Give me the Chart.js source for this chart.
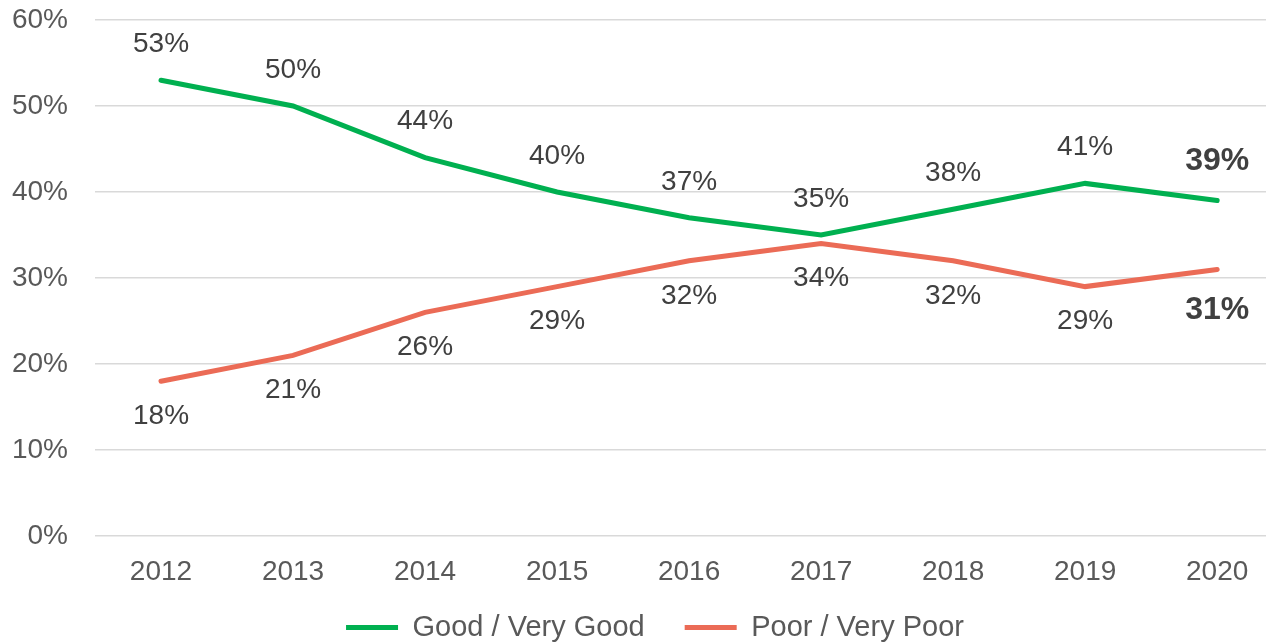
<!DOCTYPE html>
<html>
<head>
<meta charset="utf-8">
<script src="https://cdn.jsdelivr.net/npm/chart.js@4"></script>
<style>
  body { margin: 0; background: #fff; overflow: hidden; }
</style>
</head>
<body>
<canvas id="myChart" width="1266" height="643"></canvas>
<script>
const years = [2012, 2013, 2014, 2015, 2016, 2017, 2018, 2019, 2020];
const good = [53, 50, 44, 40, 37, 35, 38, 41, 39];
const poor = [18, 21, 26, 29, 32, 34, 32, 29, 31];
const yTicks = [0, 10, 20, 30, 40, 50, 60];

const FONT = "'Liberation Sans', Arial, sans-serif";

// labels above the green line, below the red one; last point in bold
const pointLabels = {
    id: 'pointLabels',
    afterDatasetsDraw(chart) {
        const ctx = chart.ctx;
        chart.data.datasets.forEach((ds, di) => {
            const meta = chart.getDatasetMeta(di);
            meta.data.forEach((pt, i) => {
                const last = i === meta.data.length - 1;
                ctx.save();
                ctx.font = last ? 'bold 32px ' + FONT : '28px ' + FONT;
                ctx.fillStyle = '#404040';
                ctx.textAlign = 'center';
                ctx.textBaseline = 'middle';
                let off = ds.labelPos === 'above' ? -36 : 35;
                if (last) off += off < 0 ? -3 : 6;
                ctx.fillText(ds.data[i].y + '%', pt.x, pt.y + off);
                ctx.restore();
            });
        });
    }
};

// pull the legend up a bit so it sits right under the year labels
const legendShift = {
    id: 'legendShift',
    afterLayout(chart) {
        chart.legend.top -= 19;
        chart.legend.bottom -= 19;
    }
};

const ctx = document.getElementById('myChart').getContext('2d');
const myChart = new Chart(ctx, {
    type: 'line',
    data: {
        datasets: [{
            label: 'Good / Very Good',
            data: years.map((y, i) => ({ x: y, y: good[i] })),
            borderColor: '#00B050',
            backgroundColor: '#00B050',
            borderWidth: 5,
            borderCapStyle: 'round',
            pointRadius: 0,
            tension: 0,
            labelPos: 'above'
        }, {
            label: 'Poor / Very Poor',
            data: years.map((y, i) => ({ x: y, y: poor[i] })),
            borderColor: '#EB6B56',
            backgroundColor: '#EB6B56',
            borderWidth: 5,
            borderCapStyle: 'round',
            pointRadius: 0,
            tension: 0,
            labelPos: 'below'
        }]
    },
    options: {
        responsive: false,
        animation: false,
        layout: { padding: { top: 0, right: -44, left: 0, bottom: -28 } },
        plugins: {
            tooltip: { enabled: false },
            legend: {
                position: 'bottom',
                labels: {
                    usePointStyle: true,
                    pointStyle: 'line',
                    pointStyleWidth: 52,
                    boxHeight: 5,
                    padding: 40,
                    color: '#595959',
                    font: { family: FONT, size: 29 }
                }
            }
        },
        scales: {
            x: {
                type: 'linear',
                min: 2011.5,
                max: 2020.37,
                afterBuildTicks: (scale) => {
                    scale.ticks = years.map(v => ({ value: v }));
                },
                afterFit: (scale) => { scale.height = 56; },
                ticks: {
                    color: '#595959',
                    font: { family: FONT, size: 28 },
                    padding: 11,
                    maxRotation: 0,
                    callback: (v) => String(v)
                },
                grid: { display: false },
                border: { display: false }
            },
            y: {
                min: 0,
                max: 60,
                afterBuildTicks: (scale) => {
                    scale.ticks = yTicks.map(v => ({ value: v }));
                },
                afterFit: (scale) => {
                    scale.width = 95;
                    scale.paddingTop = 20;
                    scale.paddingBottom = 0;
                },
                ticks: {
                    color: '#595959',
                    font: { family: FONT, size: 28 },
                    padding: 27,
                    callback: (v) => v + '%'
                },
                grid: { color: '#D9D9D9', lineWidth: 1.5, drawTicks: false },
                border: { display: false }
            }
        }
    },
    plugins: [pointLabels, legendShift]
});
</script>
</body>
</html>
